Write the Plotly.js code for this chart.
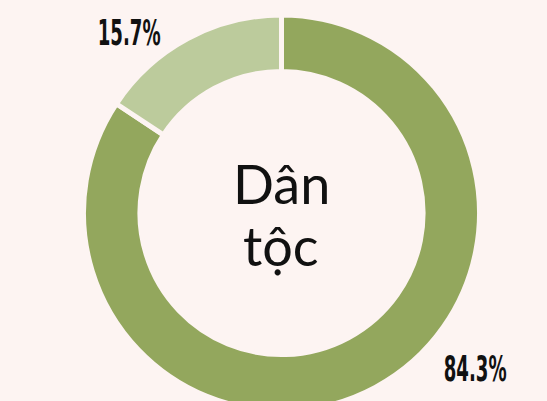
<!DOCTYPE html>
<html>
<head>
<meta charset="utf-8">
<script src="https://cdn.plot.ly/plotly-3.0.1.min.js"></script>
<style>
  html, body { margin: 0; padding: 0; overflow: hidden; background: #fdf4f2; }
  #chart { width: 547px; height: 430px; }
  .narrow-label text { transform-box: fill-box; transform-origin: center; transform: scaleX(0.56); }
</style>
</head>
<body>
<div id="chart"></div>
<script>
const categories = ["Nhóm A", "Nhóm B"];
const values = [84.3, 15.7];
const valueLabels = ["84.3%", "15.7%"];
const centerLines = ["Dân", "tộc"];
const colors = ["#93a75d", "#bccb9c"];

const W = 547, H = 430;
const py = p => 1 - p / H;
const px = p => p / W;

const trace = {
  type: "pie",
  labels: categories,
  values: values,
  hole: 0.715,
  sort: false,
  direction: "clockwise",
  rotation: 0,
  textinfo: "none",
  hoverinfo: "none",
  showlegend: false,
  marker: { colors: colors, line: { color: "#fdf4f2", width: 5 } },
  domain: { x: [px(83.5), px(479.5)], y: [py(411), py(15)] }
};

const labelFont = { family: "DejaVu Sans Condensed, DejaVu Sans, sans-serif", size: 36, color: "#111111", weight: 700 };
const centerFont = { family: "Lato, Open Sans, sans-serif", size: 54, color: "#111111" };

const annotations = [
  { text: valueLabels[1], x: px(129), y: py(32), xref: "paper", yref: "paper", showarrow: false, xanchor: "center", yanchor: "middle", font: labelFont },
  { text: valueLabels[0], x: px(475), y: py(368), xref: "paper", yref: "paper", showarrow: false, xanchor: "center", yanchor: "middle", font: labelFont },
  { text: centerLines[0], x: px(281), y: py(183), xref: "paper", yref: "paper", showarrow: false, xanchor: "center", yanchor: "middle", font: centerFont },
  { text: centerLines[1], x: px(281), y: py(246), xref: "paper", yref: "paper", showarrow: false, xanchor: "center", yanchor: "middle", font: centerFont }
];

const layout = {
  width: W, height: H,
  margin: { l: 0, r: 0, t: 0, b: 0 },
  paper_bgcolor: "#fdf4f2",
  plot_bgcolor: "#fdf4f2",
  annotations: annotations
};

Plotly.newPlot("chart", [trace], layout, { displayModeBar: false, staticPlot: true }).then(gd => {
  const groups = gd.querySelectorAll(".annotation");
  [0, 1].forEach(i => { if (groups[i]) groups[i].classList.add("narrow-label"); });
});
</script>
</body>
</html>
